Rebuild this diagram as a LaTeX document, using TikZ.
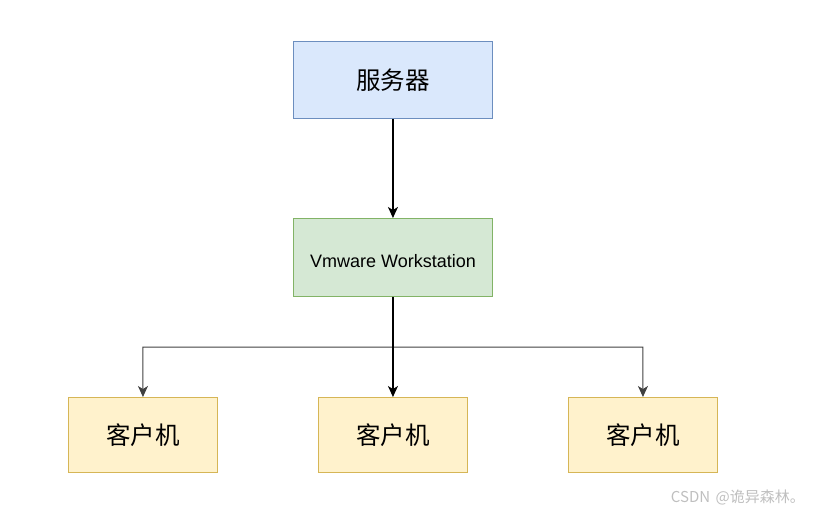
\documentclass[tikz,border=0pt]{standalone}
\usepackage{fontspec}
\setmainfont{Liberation Sans}
\newfontfamily\cjk{Noto Sans CJK SC}
\usetikzlibrary{arrows.meta}
\definecolor{bluefill}{HTML}{DAE8FC}
\definecolor{bluedraw}{HTML}{6C8EBF}
\definecolor{greenfill}{HTML}{D5E8D4}
\definecolor{greendraw}{HTML}{82B366}
\definecolor{yellowfill}{HTML}{FFF2CC}
\definecolor{yellowdraw}{HTML}{D6B656}
\tikzset{
  box/.style={draw, line width=0.9pt, inner sep=0pt, anchor=north west},
  serverbox/.style={box, fill=bluefill, draw=bluedraw, minimum width=199pt, minimum height=77pt, font=\cjk\fontsize{24.5}{28}\selectfont},
  vmbox/.style={box, fill=greenfill, draw=greendraw, minimum width=199pt, minimum height=78pt, font=\fontsize{18}{21}\selectfont},
  clientbox/.style={box, fill=yellowfill, draw=yellowdraw, minimum width=149pt, minimum height=75pt, font=\cjk\fontsize{24.5}{28}\selectfont},
  conn/.style={draw=black, line width=1.1pt, -{Stealth[length=11pt,width=10pt,inset=3pt]}}
}
\begin{document}
\begin{tikzpicture}[x=1pt,y=-1pt]
\useasboundingbox (0,0) rectangle (819,514);
\node[serverbox] (srv) at (293,41) {服务器};
\node[vmbox] (vm) at (293,218) {\raisebox{-10.5pt}[0pt][0pt]{Vmware Workstation}};
\node[clientbox] (c1) at (68,397) {客户机};
\node[clientbox] (c2) at (318,397) {客户机};
\node[clientbox] (c3) at (568,397) {客户机};
\coordinate (split) at (393,347);
\draw[conn, draw=black!75, line width=1pt] (vm.south) -- (split) -| (c1.north);
\draw[conn, draw=black!75, line width=1pt] (vm.south) -- (split) -| (c3.north);
\draw[conn] (srv.south) -- (vm.north);
\draw[conn] (vm.south) -- (c2.north);
\node[anchor=east, text=black!25, font=\cjk\fontsize{15}{18}\selectfont, inner sep=0pt] (wm) at (805,497) {CSDN {\kern2pt}@诡异森林。};
\end{tikzpicture}
\end{document}
